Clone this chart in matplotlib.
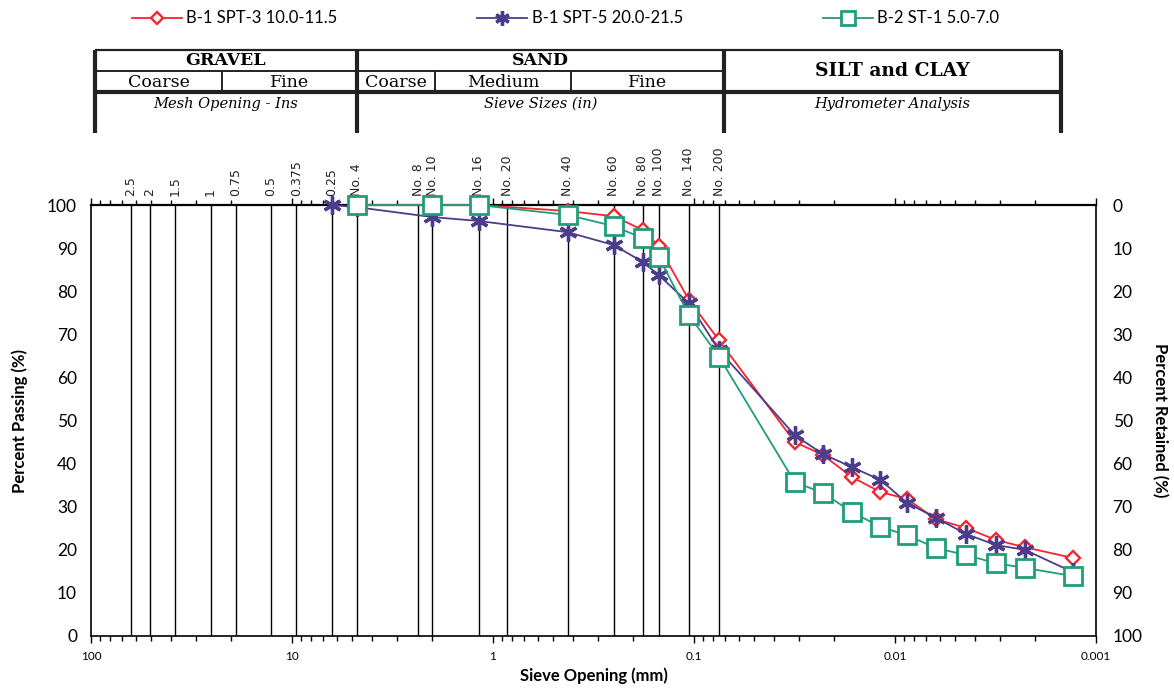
import matplotlib.pyplot as plt
from matplotlib.transforms import blended_transform_factory
from matplotlib.ticker import NullFormatter

plt.rcParams['font.family'] = ['Lato', 'DejaVu Sans']

# sieve sizes (mm) shown as vertical lines + top labels
sieve_mm = [63.5, 50.8, 38.1, 25.4, 19.05, 12.7, 9.525, 6.35, 4.75, 2.36, 2.0,
            1.18, 0.85, 0.425, 0.25, 0.18, 0.15, 0.106, 0.075]
sieve_labels = ['2.5', '2', '1.5', '1', '0.75', '0.5', '0.375', '0.25', 'No. 4',
                'No. 8', 'No. 10', 'No. 16', 'No. 20', 'No. 40', 'No. 60',
                'No. 80', 'No. 100', 'No. 140', 'No. 200']

hydro_mm = [0.0315, 0.0228, 0.0164, 0.0118, 0.0087, 0.00625, 0.00444,
            0.00315, 0.00226, 0.0013]

red_x = [4.75, 2.0, 1.18, 0.425, 0.25, 0.18, 0.15, 0.106, 0.075] + hydro_mm
red_y = [100, 100, 100, 98.6, 97.4, 94.2, 90.5, 78.0, 68.6,
         45.0, 42.0, 36.9, 33.4, 31.8, 27.1, 25.1, 22.3, 20.6, 18.1]

pur_x = [6.35, 4.75, 2.0, 1.18, 0.425, 0.25, 0.18, 0.15, 0.106, 0.075] + hydro_mm
pur_y = [100, 99.5, 97.2, 96.3, 93.7, 90.7, 86.8, 83.8, 77.2, 66.3,
         46.6, 42.2, 39.2, 36.2, 30.9, 27.4, 23.7, 21.1, 20.0, 14.8]

grn_x = [4.75, 2.0, 1.18, 0.425, 0.25, 0.18, 0.15, 0.106, 0.075] + hydro_mm
grn_y = [100, 100, 100, 97.7, 95.1, 92.3, 88.0, 74.5, 64.8,
         35.7, 33.2, 28.8, 25.3, 23.4, 20.4, 18.8, 16.9, 15.8, 13.9]

series_names = ['B-1 SPT-3 10.0-11.5', 'B-1 SPT-5 20.0-21.5', 'B-2 ST-1 5.0-7.0']

fig = plt.figure(figsize=(11.74, 6.95), dpi=100)
ax = fig.add_axes([0.0775, 0.0849, 0.856, 0.6201])

for s in sieve_mm:
    ax.axvline(s, color='black', lw=1.0, zorder=1)

ax.plot(red_x, red_y, color='#f5242f', lw=1.3, marker='D', ms=7.5, mfc='white',
        mec='#f5242f', mew=1.7, label=series_names[0], zorder=3, clip_on=False)
ax.plot(pur_x, pur_y, color='#4b3c8c', lw=1.3, marker=(6, 2, 0), ms=13,
        mec='#4b3c8c', mew=2.4, label=series_names[1], zorder=4, clip_on=False)
ax.plot(grn_x, grn_y, color='#1f9e78', lw=1.3, marker='s', ms=13, mfc='white',
        mec='#1f9e78', mew=2.0, label=series_names[2], zorder=5, clip_on=False)

ax.set_xscale('log')
ax.set_xlim(100, 0.001)
ax.set_ylim(0, 100)
ax.set_yticks(range(0, 101, 10))
ax.set_xticks([100, 10, 1, 0.1, 0.01, 0.001], ['100', '10', '1', '0.1', '0.01', '0.001'])
ax.xaxis.set_minor_formatter(NullFormatter())
ax.tick_params(axis='x', which='both', top=True, bottom=True, direction='out',
               labelsize=8.5, width=1)
ax.tick_params(axis='x', which='major', length=5, pad=6)
ax.tick_params(axis='x', which='minor', length=3.5)
ax.tick_params(axis='y', length=0, labelsize=12.5, pad=10)
for sp in ax.spines.values():
    sp.set_color('black')
    sp.set_linewidth(1.2)
ax.spines['top'].set_linewidth(1.6)

ax.set_xlabel('Sieve Opening (mm)', fontsize=12, fontweight='bold', labelpad=4)
ax.set_ylabel('Percent Passing (%)', fontsize=12, fontweight='bold', labelpad=14)

ax2 = ax.twinx()
ax2.set_ylim(100, 0)
ax2.set_yticks(range(0, 101, 10))
ax2.tick_params(axis='y', length=0, labelsize=12.5, pad=12)
ax2.set_ylabel('Percent Retained (%)', fontsize=12, fontweight='bold',
               rotation=270, labelpad=18)
for sp in ax2.spines.values():
    sp.set_visible(False)

# rotated sieve labels above the plot
ttop = blended_transform_factory(ax.transData, ax.transAxes)
for s, lab in zip(sieve_mm, sieve_labels):
    ax.text(s, 1.022, lab, transform=ttop, rotation=90, ha='center', va='bottom',
            fontsize=9, family='DejaVu Sans', color='#222222')

# soil classification table
tt = blended_transform_factory(ax.transData, fig.transFigure)
x_left, x_gc, x_gs, x_sc, x_sm, x_ss, x_right = 95.5, 22.3, 4.75, 1.94, 0.409, 0.071, 0.00149
y_top, y_r2, y_r3, y_bot = 0.928, 0.898, 0.868, 0.809


def hline(x0, x1, y, lw):
    ax.plot([x0, x1], [y, y], color='#222222', lw=lw, transform=tt, clip_on=False,
            solid_capstyle='butt')


def vline(x, y0, y1, lw):
    ax.plot([x, x], [y0, y1], color='#222222', lw=lw, transform=tt, clip_on=False,
            solid_capstyle='butt')


hline(x_left, x_right, y_top, 1.6)
hline(x_left, x_ss, y_r2, 1.4)
hline(x_left, x_right, y_r3, 3.0)
for xv in [x_left, x_gs, x_ss, x_right]:
    vline(xv, y_bot, y_top, 3.0)
for xv in [x_gc, x_sc, x_sm]:
    vline(xv, y_r3, y_r2, 1.4)


def gmid(a, b):
    return (a * b) ** 0.5


serif = 'DejaVu Serif'
ax.text(gmid(x_left, x_gs), (y_top + y_r2) / 2, 'GRAVEL', transform=tt, ha='center',
        va='center', family=serif, fontweight='bold', fontsize=12.5)
ax.text(gmid(x_gs, x_ss), (y_top + y_r2) / 2, 'SAND', transform=tt, ha='center',
        va='center', family=serif, fontweight='bold', fontsize=12.5)
ax.text(gmid(x_ss, x_right), (y_top + y_r3) / 2, 'SILT and CLAY', transform=tt,
        ha='center', va='center', family=serif, fontweight='bold', fontsize=13.5)
for a, b, lab in [(x_left, x_gc, 'Coarse'), (x_gc, x_gs, 'Fine'), (x_gs, x_sc, 'Coarse'),
                  (x_sc, x_sm, 'Medium'), (x_sm, x_ss, 'Fine')]:
    ax.text(gmid(a, b), (y_r2 + y_r3) / 2 - 0.002, lab, transform=tt, ha='center',
            va='center', family=serif, fontsize=12.5)
for a, b, lab in [(x_left, x_gs, 'Mesh Opening - Ins'), (x_gs, x_ss, 'Sieve Sizes (in)'),
                  (x_ss, x_right, 'Hydrometer Analysis')]:
    ax.text(gmid(a, b), 0.851, lab, transform=tt, ha='center', va='center',
            family=serif, style='italic', fontsize=10.5)

handles, labels = ax.get_legend_handles_labels()
fig.legend(handles, labels, loc='upper left', bbox_to_anchor=(132 / 1174, 0.985),
           ncol=3, frameon=False, fontsize=12, handlelength=3.0, columnspacing=8.4,
           handletextpad=0.25, borderpad=0, borderaxespad=0, markerscale=0.8)

fig.savefig('out.png', dpi=100)
